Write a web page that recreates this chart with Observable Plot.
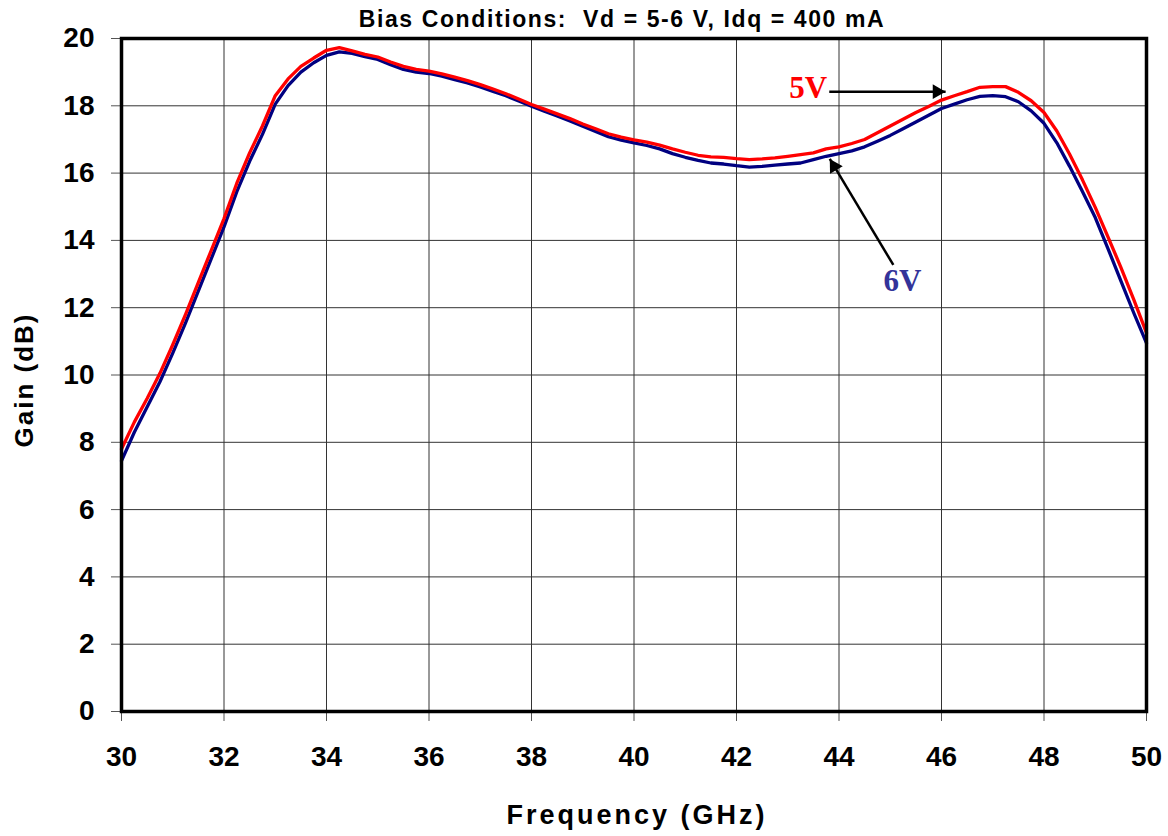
<!DOCTYPE html>
<html><head><meta charset="utf-8">
<script src="https://cdn.jsdelivr.net/npm/d3@7"></script>
<script src="https://cdn.jsdelivr.net/npm/@observablehq/plot@0.6"></script>
<style>
body{margin:0;background:#fff}
</style>
</head><body><div id="chart"></div>
<script>
// Frequency (GHz)
const freq = [30,30.25,30.5,30.75,31,31.25,31.5,31.75,32,32.25,32.5,32.75,33,33.25,33.5,33.75,34,34.25,34.5,34.75,35,35.25,35.5,35.75,36,36.25,36.5,36.75,37,37.25,37.5,37.75,38,38.25,38.5,38.75,39,39.25,39.5,39.75,40,40.25,40.5,40.75,41,41.25,41.5,41.75,42,42.25,42.5,42.75,43,43.25,43.5,43.75,44,44.25,44.5,44.75,45,45.25,45.5,45.75,46,46.25,46.5,46.75,47,47.25,47.5,47.75,48,48.25,48.5,48.75,49,49.25,49.5,49.75,50];
// Gain (dB) at Vd = 5 V
const gain5V = [7.8,8.6,9.3,10.05,10.9,11.8,12.75,13.7,14.65,15.7,16.6,17.4,18.3,18.8,19.17,19.42,19.65,19.73,19.63,19.53,19.45,19.3,19.17,19.08,19.03,18.95,18.85,18.75,18.63,18.5,18.36,18.2,18.04,17.9,17.76,17.62,17.46,17.32,17.17,17.07,16.99,16.92,16.83,16.72,16.62,16.53,16.48,16.47,16.43,16.4,16.42,16.45,16.5,16.55,16.6,16.72,16.78,16.88,17.0,17.2,17.4,17.6,17.8,17.98,18.17,18.3,18.42,18.55,18.57,18.57,18.4,18.15,17.8,17.25,16.56,15.8,14.98,14.1,13.2,12.25,11.25];
// Gain (dB) at Vd = 6 V
const gain6V = [7.45,8.3,9.05,9.8,10.65,11.55,12.5,13.45,14.4,15.45,16.35,17.15,18.05,18.6,19.0,19.28,19.5,19.6,19.56,19.46,19.38,19.22,19.08,19.0,18.96,18.88,18.78,18.68,18.56,18.43,18.3,18.14,17.99,17.84,17.7,17.55,17.39,17.24,17.08,16.98,16.9,16.82,16.72,16.58,16.47,16.38,16.3,16.27,16.22,16.18,16.2,16.24,16.27,16.3,16.4,16.5,16.58,16.66,16.78,16.95,17.12,17.32,17.52,17.72,17.92,18.05,18.18,18.28,18.3,18.27,18.12,17.85,17.48,16.9,16.2,15.45,14.68,13.75,12.8,11.85,10.95];

const xTicks = [30,32,34,36,38,40,42,44,46,48,50];
const yTicks = [0,2,4,6,8,10,12,14,16,18,20];

const titleText = "Bias Conditions:\u00a0 Vd = 5-6 V, Idq = 400 mA";
const xLabel = "Frequency (GHz)";
const yLabel = "Gain (dB)";

// annotation labels and arrows (data coordinates)
const labelNames = ["5V", "6V"];
const labelX = [43.4, 45.24];
const labelY = [18.54, 12.78];
const labelColors = ["#ff0000", "#333399"];
const arrowStartX = [43.81, 45.06];
const arrowStartY = [18.42, 13.27];
const arrowTipX = [46.08, 43.82];
const arrowTipY = [18.42, 16.42];

const s5 = freq.map((f, i) => ({f, g: gain5V[i]}));
const s6 = freq.map((f, i) => ({f, g: gain6V[i]}));
const labels = labelNames.map((t, i) => ({t, x: labelX[i], y: labelY[i], c: labelColors[i]}));
const arrows = labelNames.map((t, i) => ({x1: arrowStartX[i], y1: arrowStartY[i], x2: arrowTipX[i], y2: arrowTipY[i]}));

const font = "'Liberation Sans', Arial, sans-serif";

const chart = Plot.plot({
  width: 1168,
  height: 836,
  marginLeft: 121,
  marginRight: 22,
  marginTop: 38,
  marginBottom: 125,
  style: {fontFamily: font, background: "#fff"},
  x: {domain: [30, 50]},
  y: {domain: [0, 20]},
  marks: [
    Plot.gridX(xTicks, {stroke: "#333", strokeOpacity: 1, strokeWidth: 1}),
    Plot.gridY(yTicks, {stroke: "#333", strokeOpacity: 1, strokeWidth: 1}),
    Plot.axisY(yTicks, {tickSize: 10, tickPadding: 17, fontSize: 28, fontWeight: "bold", label: null, stroke: "#555", fill: "#000"}),
    Plot.axisX(xTicks, {tickSize: 10, tickPadding: 25, fontSize: 28, fontWeight: "bold", label: null, stroke: "#555", fill: "#000"}),
    Plot.line(s6, {x: "f", y: "g", stroke: "#000080", strokeWidth: 3.3}),
    Plot.line(s5, {x: "f", y: "g", stroke: "#ff0000", strokeWidth: 3.3}),
    Plot.frame({stroke: "#000", strokeWidth: 3.5}),
    Plot.link(arrows, {x1: "x1", y1: "y1", x2: "x2", y2: "y2", stroke: "#000", strokeWidth: 2.5}),
    Plot.dot([arrows[0]], {x: "x2", y: "y2", symbol: "triangle", r: 5.5, fill: "#000", stroke: "none", rotate: 90, dx: -8.6}),
    Plot.dot([arrows[1]], {x: "x2", y: "y2", symbol: "triangle", r: 5.5, fill: "#000", stroke: "none", rotate: -31, dx: 4.4, dy: 7.4}),
    Plot.text(labels, {x: "x", y: "y", text: "t", fill: "c", fontSize: 31, fontWeight: "bold", fontFamily: "'Liberation Serif', 'Times New Roman', serif"}),
    Plot.text([titleText], {frameAnchor: "top", lineAnchor: "middle", textAnchor: "middle", dy: -19, dx: -12, fontSize: 23, fontWeight: "bold", fill: "#000"}),
    Plot.text([xLabel], {frameAnchor: "bottom", lineAnchor: "middle", textAnchor: "middle", dy: 104, dx: 3, fontSize: 27, fontWeight: "bold", fill: "#000"}),
    Plot.text([yLabel], {frameAnchor: "left", lineAnchor: "middle", textAnchor: "middle", dx: -97, dy: 5, rotate: -90, fontSize: 26, fontWeight: "bold", fill: "#000"})
  ]
});
// letter spacing for the title texts
const spacing = new Map([[titleText, "1.6px"], [xLabel, "3px"], [yLabel, "2px"]]);
d3.select(chart).selectAll("text").each(function () {
  const s = spacing.get(this.textContent);
  if (s) this.style.letterSpacing = s;
});
document.getElementById("chart").append(chart);
</script>
</body></html>
